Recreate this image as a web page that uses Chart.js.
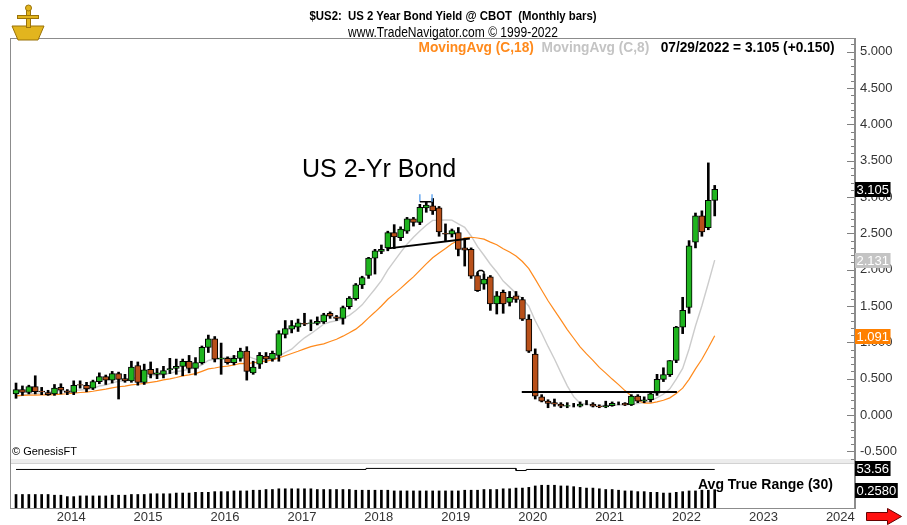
<!DOCTYPE html>
<html>
<head>
<meta charset="utf-8">
<script src="https://cdn.jsdelivr.net/npm/chart.js@4.4.0/dist/chart.umd.min.js"></script>
<style>
  html, body { margin: 0; padding: 0; background: #fff; }
  #wrap { position: relative; width: 907px; height: 525px; overflow: hidden; }
  canvas { position: absolute; left: 0; top: 0; }
  .t { position: absolute; white-space: nowrap; line-height: 1; font-family: 'Liberation Sans', Arial, sans-serif; }
  .narrow { display: inline-block; }
</style>
</head>
<body>
<div id="wrap">
  <canvas id="c" width="907" height="525"></canvas>
  <div class="t" style="left:0;width:907px;text-align:center;top:9px;font-weight:bold;font-size:13px;">
    <span class="narrow" style="transform:scaleX(0.875)">$US2:&nbsp; US 2 Year Bond Yield @ CBOT&nbsp; (Monthly bars)</span>
  </div>
  <div class="t" style="left:0;width:907px;text-align:center;top:25px;font-size:14px;">
    <span class="narrow" style="transform:scaleX(0.86)">www.TradeNavigator.com © 1999-2022</span>
  </div>
  <div class="t" style="right:72px;top:40px;font-weight:bold;font-size:14px;">
    <span class="narrow" style="transform:scaleX(0.98);transform-origin:right center;">
      <span style="color:#ff8a1c">MovingAvg (C,18)</span>&nbsp; <span style="color:#c4c4c4">MovingAvg (C,8)</span>&nbsp;&nbsp; <span style="color:#000">07/29/2022 = 3.105 (+0.150)</span>
    </span>
  </div>
  <div class="t" style="left:302px;top:156px;font-size:25px;">US 2-Yr Bond</div>
  <div class="t" style="left:12px;top:446px;font-size:11px;">© GenesisFT</div>
  <div class="t" style="left:698px;top:477px;font-size:14px;font-weight:bold;">Avg True Range (30)</div>
</div>
<script>
// monthly bars, Jun 2013 .. Jul 2022 (index 0 = Jun 2013)
const opens = [
  0.29, 0.35, 0.31, 0.39, 0.33, 0.31, 0.29, 0.38, 0.33, 0.31, 0.42, 0.41,
  0.37, 0.46, 0.53, 0.48, 0.57, 0.50, 0.47, 0.68, 0.45, 0.63, 0.56, 0.56,
  0.62, 0.64, 0.67, 0.74, 0.64, 0.72, 0.93, 1.05, 0.77, 0.78, 0.72, 0.78,
  0.88, 0.58, 0.70, 0.81, 0.77, 0.82, 1.11, 1.18, 1.21, 1.26, 1.26, 1.26,
  1.28, 1.40, 1.35, 1.33, 1.49, 1.60, 1.79, 1.92, 2.16, 2.25, 2.30, 2.51,
  2.44, 2.53, 2.70, 2.65, 2.85, 2.88, 2.85, 2.50, 2.49, 2.51, 2.30, 2.28,
  1.92, 1.80, 1.90, 1.53, 1.69, 1.55, 1.64, 1.59, 1.32, 0.84, 0.25, 0.19,
  0.17, 0.15, 0.12, 0.13, 0.12, 0.15, 0.15, 0.12, 0.11, 0.13, 0.16, 0.16,
  0.14, 0.26, 0.19, 0.21, 0.30, 0.49, 0.555, 0.75, 1.21, 1.48, 2.38, 2.74,
  2.58, 2.955
];
const highs = [
  0.44, 0.40, 0.41, 0.54, 0.38, 0.34, 0.42, 0.43, 0.35, 0.47, 0.47, 0.45,
  0.48, 0.58, 0.55, 0.60, 0.59, 0.56, 0.74, 0.73, 0.70, 0.73, 0.64, 0.67,
  0.78, 0.77, 0.77, 0.82, 0.79, 0.95, 1.10, 1.08, 0.99, 0.80, 0.82, 0.92,
  0.94, 0.74, 0.86, 0.86, 0.88, 1.16, 1.30, 1.30, 1.32, 1.40, 1.31, 1.35,
  1.40, 1.42, 1.37, 1.50, 1.63, 1.81, 1.91, 2.17, 2.28, 2.34, 2.53, 2.62,
  2.59, 2.72, 2.72, 2.90, 2.94, 2.98, 2.87, 2.63, 2.56, 2.58, 2.43, 2.30,
  1.96, 1.94, 1.92, 1.70, 1.72, 1.70, 1.70, 1.62, 1.38, 0.91, 0.28, 0.21,
  0.22, 0.17, 0.17, 0.16, 0.18, 0.20, 0.17, 0.14, 0.19, 0.18, 0.18, 0.17,
  0.28, 0.28, 0.25, 0.31, 0.56, 0.65, 0.75, 1.22, 1.62, 2.40, 2.78, 2.81,
  3.47, 3.16
];
const lows = [
  0.23, 0.27, 0.29, 0.29, 0.28, 0.27, 0.27, 0.29, 0.28, 0.28, 0.37, 0.32,
  0.35, 0.43, 0.42, 0.44, 0.22, 0.45, 0.45, 0.41, 0.42, 0.51, 0.50, 0.51,
  0.57, 0.56, 0.54, 0.58, 0.55, 0.70, 0.86, 0.73, 0.56, 0.70, 0.69, 0.74,
  0.48, 0.56, 0.64, 0.72, 0.74, 0.74, 1.06, 1.13, 1.15, 1.23, 1.16, 1.24,
  1.26, 1.33, 1.30, 1.25, 1.46, 1.58, 1.74, 1.88, 1.94, 2.22, 2.26, 2.29,
  2.40, 2.50, 2.60, 2.62, 2.79, 2.76, 2.46, 2.40, 2.45, 2.19, 2.05, 1.88,
  1.70, 1.73, 1.44, 1.39, 1.40, 1.50, 1.55, 1.30, 0.86, 0.22, 0.18, 0.10,
  0.12, 0.10, 0.10, 0.11, 0.11, 0.14, 0.11, 0.10, 0.10, 0.12, 0.14, 0.13,
  0.13, 0.17, 0.17, 0.18, 0.27, 0.46, 0.53, 0.72, 1.12, 1.40, 2.30, 2.46,
  2.55, 2.74
];
const closes = [
  0.35, 0.31, 0.39, 0.32, 0.32, 0.28, 0.37, 0.34, 0.31, 0.41, 0.41, 0.36,
  0.46, 0.53, 0.48, 0.57, 0.49, 0.47, 0.66, 0.45, 0.62, 0.56, 0.58, 0.61,
  0.64, 0.67, 0.74, 0.64, 0.72, 0.93, 1.05, 0.77, 0.78, 0.72, 0.78, 0.88,
  0.60, 0.66, 0.82, 0.77, 0.85, 1.12, 1.19, 1.23, 1.27, 1.25, 1.27, 1.29,
  1.38, 1.36, 1.33, 1.48, 1.61, 1.79, 1.89, 2.16, 2.26, 2.28, 2.51, 2.45,
  2.56, 2.70, 2.65, 2.86, 2.89, 2.81, 2.52, 2.49, 2.54, 2.28, 2.27, 1.91,
  1.71, 1.87, 1.53, 1.64, 1.53, 1.62, 1.59, 1.32, 0.88, 0.26, 0.19, 0.16,
  0.15, 0.12, 0.13, 0.13, 0.15, 0.15, 0.12, 0.11, 0.13, 0.16, 0.16, 0.14,
  0.26, 0.19, 0.21, 0.29, 0.49, 0.555, 0.75, 1.21, 1.44, 2.33, 2.74, 2.52,
  2.955, 3.105
];
// closes Jan 2012 .. May 2013, only used to start the moving averages
const priorCloses = [0.22, 0.30, 0.33, 0.27, 0.27, 0.30, 0.22, 0.23, 0.23, 0.28, 0.25, 0.25, 0.26, 0.25, 0.24, 0.21, 0.30];

// Avg True Range (30), lower panel
const atr30 = [
  0.19, 0.19, 0.19, 0.19, 0.19, 0.19, 0.18, 0.18, 0.16, 0.16, 0.17, 0.17,
  0.17, 0.17, 0.17, 0.18, 0.18, 0.18, 0.19, 0.19, 0.19, 0.20, 0.20, 0.20,
  0.20, 0.21, 0.21, 0.21, 0.22, 0.22, 0.22, 0.23, 0.23, 0.23, 0.24, 0.24,
  0.24, 0.25, 0.25, 0.26, 0.26, 0.27, 0.27, 0.27, 0.27, 0.27, 0.27, 0.26,
  0.26, 0.26, 0.26, 0.26, 0.26, 0.25, 0.25, 0.25, 0.25, 0.25, 0.25, 0.24,
  0.24, 0.24, 0.24, 0.24, 0.24, 0.24, 0.24, 0.24, 0.24, 0.24, 0.25, 0.25,
  0.25, 0.26, 0.26, 0.26, 0.27, 0.27, 0.28, 0.28, 0.29, 0.31, 0.32, 0.32,
  0.32, 0.31, 0.31, 0.30, 0.29, 0.28, 0.28, 0.27, 0.26, 0.26, 0.25, 0.24,
  0.24, 0.23, 0.23, 0.22, 0.22, 0.21, 0.21, 0.22, 0.23, 0.24, 0.24, 0.25,
  0.25, 0.258
];
// thin indicator strip under the price panel (value 53.56 at the end)
const stripLine = [
  {x: 0, y: 53.56}, {x: 54.6, y: 53.56}, {x: 54.6, y: 53.65}, {x: 78.0, y: 53.65},
  {x: 78.0, y: 53.47}, {x: 79.6, y: 53.47}, {x: 79.6, y: 53.56}, {x: 109, y: 53.56}
];

// drawn trend lines
const neckline = [{x: 57.8, y: 2.29}, {x: 70.8, y: 2.43}];
const floorLine = [{x: 78.9, y: 0.315}, {x: 103.1, y: 0.315}];
const topBracket = [{x: 63.0, y: 3.04}, {x: 63.0, y: 2.935}, {x: 64.9, y: 2.935}, {x: 64.9, y: 3.04}];
const arch = [{x: 72, y: 1.92}, {x: 72, y: 1.97}, {x: 72.3, y: 1.99}, {x: 72.7, y: 1.99}, {x: 73, y: 1.97}, {x: 73, y: 1.88}];

const years = ['2014', '2015', '2016', '2017', '2018', '2019', '2020', '2021', '2022', '2023', '2024'];
const yTicks = [-0.5, 0, 0.5, 1, 1.5, 2, 2.5, 3, 3.5, 4, 4.5, 5];

const GREEN = '#1fb41f';
const BROWN = '#b8501a';
const ORANGE = '#ff8a1c';
const GRAYMA = '#cccccc';

const idx = closes.map((_, i) => i);
function movingAvg(n) {
  const all = priorCloses.concat(closes);
  return closes.map((_, i) => {
    const end = priorCloses.length + i + 1;
    const s = all.slice(end - n, end);
    return {x: i, y: s.reduce((a, b) => a + b, 0) / s.length};
  });
}
const ma18 = movingAvg(18);
const ma8 = movingAvg(8);

const axisFont = {family: "'Liberation Sans', Arial, sans-serif", size: 13};

function valueBox(ctx, text, y, bg, fg) {
  ctx.font = "13px 'Liberation Sans', Arial, sans-serif";
  const w = ctx.measureText(text).width + 3;
  ctx.fillStyle = bg;
  ctx.fillRect(855, Math.round(y) - 7, w, 15);
  ctx.fillStyle = fg;
  ctx.textAlign = 'left';
  ctx.textBaseline = 'middle';
  ctx.fillText(text, 856.5, Math.round(y) + 1);
}

const decor = {
  id: 'decor',
  beforeDatasetsDraw(chart) {
    const ctx = chart.ctx;
    ctx.save();
    ctx.fillStyle = '#ececec';
    ctx.fillRect(11, 459, 843, 4);
    ctx.fillStyle = '#d2d2d2';
    ctx.fillRect(11, 463, 843, 1);
    ctx.restore();
  },
  afterDraw(chart) {
    const ctx = chart.ctx;
    const a = chart.chartArea;
    const y = chart.scales.y;
    ctx.save();
    // frame
    ctx.strokeStyle = '#8c8c8c';
    ctx.lineWidth = 1;
    ctx.beginPath();
    ctx.moveTo(10.5, a.top + 0.5); ctx.lineTo(a.right + 0.5, a.top + 0.5);
    ctx.moveTo(10.5, a.top); ctx.lineTo(10.5, a.bottom + 0.5);
    ctx.moveTo(10, a.bottom + 0.5); ctx.lineTo(a.right, a.bottom + 0.5);
    ctx.stroke();
    ctx.lineWidth = 2;
    ctx.beginPath();
    ctx.moveTo(a.right + 1, a.top); ctx.lineTo(a.right + 1, a.bottom + 1);
    ctx.stroke();
    // tick marks on the price axis
    ctx.lineWidth = 1;
    ctx.strokeStyle = '#808080';
    ctx.beginPath();
    for (let k = -6; k <= 51; k++) {
      const py = Math.round(y.getPixelForValue(k / 10)) + 0.5;
      const len = k % 5 === 0 ? 7 : 3;
      ctx.moveTo(a.right - len, py); ctx.lineTo(a.right, py);
    }
    ctx.stroke();
    // value boxes
    const n = closes.length - 1;
    valueBox(ctx, closes[n].toFixed(3), y.getPixelForValue(closes[n]), '#000', '#fff');
    valueBox(ctx, ma8[n].y.toFixed(3), y.getPixelForValue(ma8[n].y), '#c4c4c4', '#fff');
    valueBox(ctx, ma18[n].y.toFixed(3), y.getPixelForValue(ma18[n].y), '#ff8000', '#fff');
    valueBox(ctx, stripLine[stripLine.length - 1].y.toFixed(2), chart.scales.yi.getPixelForValue(stripLine[stripLine.length - 1].y) - 1, '#000', '#fff');
    valueBox(ctx, atr30[n].toFixed(4), chart.scales.ya.getPixelForValue(atr30[n]), '#000', '#fff');
    // red arrow, bottom right
    ctx.fillStyle = '#ff1010';
    ctx.strokeStyle = '#600';
    ctx.lineWidth = 1;
    ctx.beginPath();
    ctx.moveTo(866.5, 512.5); ctx.lineTo(887.5, 512.5); ctx.lineTo(887.5, 508.5);
    ctx.lineTo(901.5, 516.5); ctx.lineTo(887.5, 524.5); ctx.lineTo(887.5, 520.5);
    ctx.lineTo(866.5, 520.5); ctx.closePath();
    ctx.fill(); ctx.stroke();
    // gold logo
    ctx.fillStyle = '#e2b51e';
    ctx.strokeStyle = '#9a7208';
    ctx.beginPath();
    ctx.moveTo(12, 26); ctx.lineTo(44, 26); ctx.lineTo(38, 40); ctx.lineTo(18, 40); ctx.closePath();
    ctx.fill(); ctx.stroke();
    ctx.fillRect(26, 6, 5, 22); ctx.strokeRect(26.5, 6.5, 4, 21);
    ctx.fillRect(17, 15, 22, 4); ctx.strokeRect(17.5, 15.5, 21, 3);
    ctx.beginPath(); ctx.arc(28.5, 8, 3, 0, Math.PI * 2); ctx.fill(); ctx.stroke();
    ctx.restore();
  }
};

const lineDs = (data, color, width, order, extra) => Object.assign({
  type: 'line', data, yAxisID: 'y', borderColor: color, borderWidth: width,
  pointRadius: 0, tension: 0, order
}, extra || {});

new Chart(document.getElementById('c'), {
  type: 'bar',
  data: {
    datasets: [
      lineDs(ma8, GRAYMA, 1.4, 7),
      lineDs(ma18, ORANGE, 1.2, 6),
      {
        type: 'bar', yAxisID: 'y', grouped: false, order: 5,
        data: idx.map(i => ({x: i, y: [lows[i], highs[i]]})),
        backgroundColor: '#000', barThickness: 2
      },
      {
        type: 'bar', yAxisID: 'y', grouped: false, order: 4,
        data: idx.map(i => ({x: i, y: [opens[i], closes[i]]})),
        backgroundColor: idx.map(i => closes[i] >= opens[i] ? GREEN : BROWN),
        borderColor: '#000', borderWidth: 1, borderSkipped: false, barThickness: 6
      },
      lineDs(neckline, '#000', 2, 1),
      lineDs(floorLine, '#000', 2, 1),
      lineDs(topBracket, '#000', 1.5, 1, {
        segment: {borderColor: c => c.p0DataIndex === 1 ? '#000' : '#6aaaf0'}
      }),
      lineDs(arch, '#000', 1.5, 1),
      lineDs(stripLine, '#000', 1, 2, {yAxisID: 'yi'}),
      {
        type: 'bar', yAxisID: 'ya', grouped: false, order: 3,
        data: idx.map(i => ({x: i, y: atr30[i]})),
        backgroundColor: '#000', barThickness: 2
      }
    ]
  },
  options: {
    responsive: false,
    animation: false,
    events: [],
    layout: {padding: {left: 10, top: 38, right: 0, bottom: 0}},
    plugins: {legend: {display: false}, tooltip: {enabled: false}},
    scales: {
      x: {
        type: 'linear', min: -0.94, max: 130.73, offset: false,
        grid: {display: false, drawTicks: false}, border: {display: false},
        afterBuildTicks: s => { s.ticks = years.map((_, k) => ({value: 8.6 + 12 * k})); },
        afterFit: s => { s.height = 17; },
        ticks: {
          callback: (v, k) => years[k], color: '#333', font: axisFont,
          padding: 2, maxRotation: 0, autoSkip: false
        }
      },
      y: {
        type: 'linear', position: 'right', stack: 'p', stackWeight: 424,
        min: -0.647, max: 5.189,
        grid: {display: false, drawTicks: false}, border: {display: false},
        afterBuildTicks: s => { s.ticks = yTicks.map(v => ({value: v})); },
        afterFit: s => { s.width = 53; },
        ticks: {callback: v => v.toFixed(3), color: '#333', font: axisFont, padding: 6}
      },
      yi: {
        type: 'linear', position: 'right', stack: 'p', stackWeight: 14,
        min: 53.0, max: 54.2,
        grid: {display: false, drawTicks: false}, border: {display: false},
        ticks: {display: false},
        afterFit: s => { s.width = 53; }
      },
      ya: {
        type: 'linear', position: 'right', stack: 'p', stackWeight: 32,
        min: 0, max: 0.45,
        grid: {display: false, drawTicks: false}, border: {display: false},
        ticks: {display: false},
        afterFit: s => { s.width = 53; }
      }
    }
  },
  plugins: [decor]
});
</script>
</body>
</html>
